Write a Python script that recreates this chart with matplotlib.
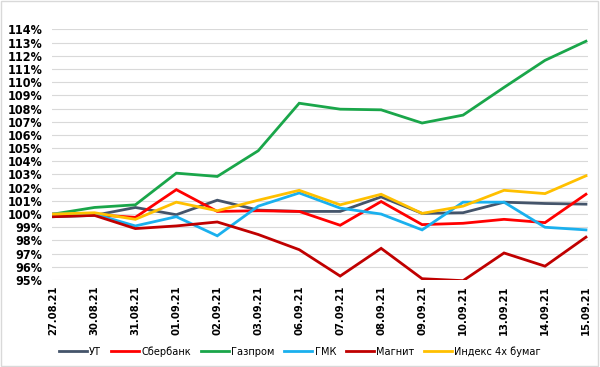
import numpy as np
import matplotlib.pyplot as plt
from matplotlib.patches import Rectangle

# dates and series (index, % of 27.08.21)
dates = ['27.08.21', '30.08.21', '31.08.21', '01.09.21', '02.09.21', '03.09.21', '06.09.21',
         '07.09.21', '08.09.21', '09.09.21', '10.09.21', '13.09.21', '14.09.21', '15.09.21']
ut = [99.8, 99.9, 100.5, 99.95, 101.05, 100.3, 100.2, 100.2, 101.3, 100.05, 100.1, 100.9, 100.8, 100.75]
sber = [100.0, 99.95, 99.75, 101.85, 100.2, 100.25, 100.2, 99.15, 100.95, 99.2, 99.3, 99.6, 99.35, 101.5]
gazprom = [100.0, 100.5, 100.7, 103.1, 102.85, 104.8, 108.4, 107.95, 107.9, 106.9, 107.5, 109.6, 111.65, 113.1]
gmk = [100.0, 100.0, 99.1, 99.8, 98.35, 100.6, 101.6, 100.45, 100.0, 98.8, 100.9, 100.9, 99.0, 98.8]
magnit = [99.8, 99.9, 98.9, 99.1, 99.4, 98.45, 97.3, 95.3, 97.4, 95.1, 94.95, 97.05, 96.05, 98.25]
index4 = [100.0, 100.1, 99.6, 100.9, 100.25, 101.05, 101.8, 100.7, 101.5, 100.05, 100.6, 101.8, 101.55, 102.9]

labels = ['УТ', 'Сбербанк', 'Газпром', 'ГМК', 'Магнит', 'Индекс 4х бумаг']
colors = ['#44546a', '#ff0000', '#1aa64a', '#1ab0ee', '#c00000', '#ffc000']
series = [ut, sber, gazprom, gmk, magnit, index4]

fig = plt.figure(figsize=(6, 3.67), dpi=100)
ax = fig.add_axes([0.087, 0.237, 0.893, 0.683])

x = np.arange(len(dates))
for s, lab, c in zip(series, labels, colors):
    ax.plot(x, s, color=c, lw=2.0, label=lab, solid_joinstyle='miter')

ax.set_ylim(95, 114)
ax.set_xlim(-0.03, 13.05)
ax.set_yticks(np.arange(95, 115, 1))
ax.set_yticklabels([f'{v}%' for v in range(95, 115)], fontweight='bold', fontsize=9,
                   fontstretch='condensed')
ax.set_xticks(x)
ax.set_xticklabels(dates, rotation=90, fontweight='bold', fontsize=8, fontstretch='condensed')
ax.grid(axis='y', color='#d9d9d9', lw=0.8)
ax.set_axisbelow(True)
for sp in ax.spines.values():
    sp.set_visible(False)
ax.tick_params(axis='y', length=0, pad=7)
ax.tick_params(axis='x', length=0, pad=4)

fig.legend(loc='center', bbox_to_anchor=(0.5, 0.043), ncol=6, frameon=False,
           prop={'size': 7.8, 'stretch': 'condensed'}, handlelength=2.6, columnspacing=0.9,
           handletextpad=0.2)

fig.patches.append(Rectangle((0.002, 0.003), 0.995, 0.993, transform=fig.transFigure,
                             fill=False, edgecolor='#d9d9d9', lw=1))

fig.savefig('out.png', dpi=100)
